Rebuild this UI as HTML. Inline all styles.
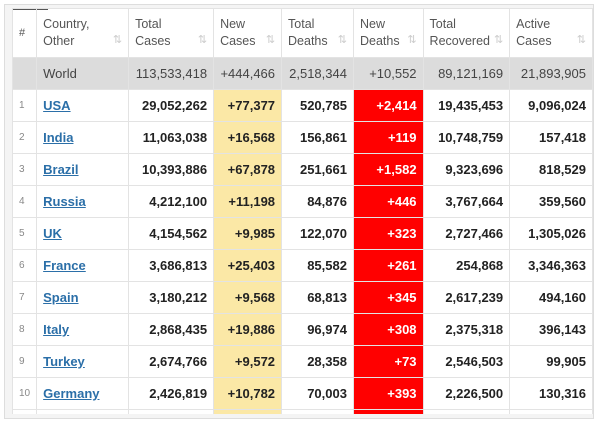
<!DOCTYPE html>
<html><head><style>
body{margin:0;width:600px;height:423px;background:#fff;font-family:"Liberation Sans",Arial,sans-serif;position:relative;overflow:hidden}
.box{position:absolute;left:4px;top:4px;width:588px;height:413px;border:1px solid #ddd;background:#f4f4f4}
.t{position:absolute;left:12px;top:8px;width:581px;height:406px;background:#fff;overflow:hidden}
.bar{position:absolute;left:0;top:-1px;width:36px;height:3px;background:#555}
table{border-collapse:collapse;table-layout:fixed;position:absolute;left:0;top:0}
td,th{border:1px solid #e3e3e3;padding:0 6px;font-size:13px;color:#222;white-space:nowrap;overflow:hidden}
th{height:48px;font-weight:normal;color:#555;text-align:left;font-size:12.5px;line-height:17px;vertical-align:middle;position:relative}
th .s{position:absolute;right:6px;bottom:8px;color:#ccc;font-size:11px}
tr.r td{height:31px;font-weight:bold;text-align:right}
tr.w td{height:31px;background:#dcdcdc;color:#444;text-align:right;font-weight:normal}
tr.w td.c{text-align:left}
td.n{font-weight:normal!important;color:#888;font-size:10px;text-align:left!important;padding-left:6px}
td.c{text-align:left!important}
td.c a{color:#2b6fa8;text-decoration:underline}
td.y{background:#fbe8a6}
td.rd{background:#f00;color:#fff}
</style></head><body>
<div class="box"></div>
<div class="t"><div class="bar"></div>
<table>
<colgroup><col style="width:23px"><col style="width:93px"><col style="width:85px"><col style="width:68px"><col style="width:72px"><col style="width:70px"><col style="width:87px"><col style="width:83px"></colgroup>
<tr><th style="font-size:11px">#</th><th>Country,<br>Other<span class="s">⇅</span></th><th>Total<br>Cases<span class="s">⇅</span></th><th>New<br>Cases<span class="s">⇅</span></th><th>Total<br>Deaths<span class="s">⇅</span></th><th>New<br>Deaths<span class="s">⇅</span></th><th>Total<br>Recovered<span class="s">⇅</span></th><th>Active<br>Cases<span class="s">⇅</span></th></tr>
<tr class="w"><td></td><td class="c">World</td><td>113,533,418</td><td>+444,466</td><td>2,518,344</td><td>+10,552</td><td>89,121,169</td><td>21,893,905</td></tr>
<tr class="r"><td class="n">1</td><td class="c"><a>USA</a></td><td>29,052,262</td><td class="y">+77,377</td><td>520,785</td><td class="rd">+2,414</td><td>19,435,453</td><td>9,096,024</td></tr>
<tr class="r"><td class="n">2</td><td class="c"><a>India</a></td><td>11,063,038</td><td class="y">+16,568</td><td>156,861</td><td class="rd">+119</td><td>10,748,759</td><td>157,418</td></tr>
<tr class="r"><td class="n">3</td><td class="c"><a>Brazil</a></td><td>10,393,886</td><td class="y">+67,878</td><td>251,661</td><td class="rd">+1,582</td><td>9,323,696</td><td>818,529</td></tr>
<tr class="r"><td class="n">4</td><td class="c"><a>Russia</a></td><td>4,212,100</td><td class="y">+11,198</td><td>84,876</td><td class="rd">+446</td><td>3,767,664</td><td>359,560</td></tr>
<tr class="r"><td class="n">5</td><td class="c"><a>UK</a></td><td>4,154,562</td><td class="y">+9,985</td><td>122,070</td><td class="rd">+323</td><td>2,727,466</td><td>1,305,026</td></tr>
<tr class="r"><td class="n">6</td><td class="c"><a>France</a></td><td>3,686,813</td><td class="y">+25,403</td><td>85,582</td><td class="rd">+261</td><td>254,868</td><td>3,346,363</td></tr>
<tr class="r"><td class="n">7</td><td class="c"><a>Spain</a></td><td>3,180,212</td><td class="y">+9,568</td><td>68,813</td><td class="rd">+345</td><td>2,617,239</td><td>494,160</td></tr>
<tr class="r"><td class="n">8</td><td class="c"><a>Italy</a></td><td>2,868,435</td><td class="y">+19,886</td><td>96,974</td><td class="rd">+308</td><td>2,375,318</td><td>396,143</td></tr>
<tr class="r"><td class="n">9</td><td class="c"><a>Turkey</a></td><td>2,674,766</td><td class="y">+9,572</td><td>28,358</td><td class="rd">+73</td><td>2,546,503</td><td>99,905</td></tr>
<tr class="r"><td class="n">10</td><td class="c"><a>Germany</a></td><td>2,426,819</td><td class="y">+10,782</td><td>70,003</td><td class="rd">+393</td><td>2,226,500</td><td>130,316</td></tr>
<tr class="r"><td class="n"></td><td class="c"></td><td></td><td class="y"></td><td></td><td class="rd"></td><td></td><td></td></tr>
</table></div>
</body></html>
